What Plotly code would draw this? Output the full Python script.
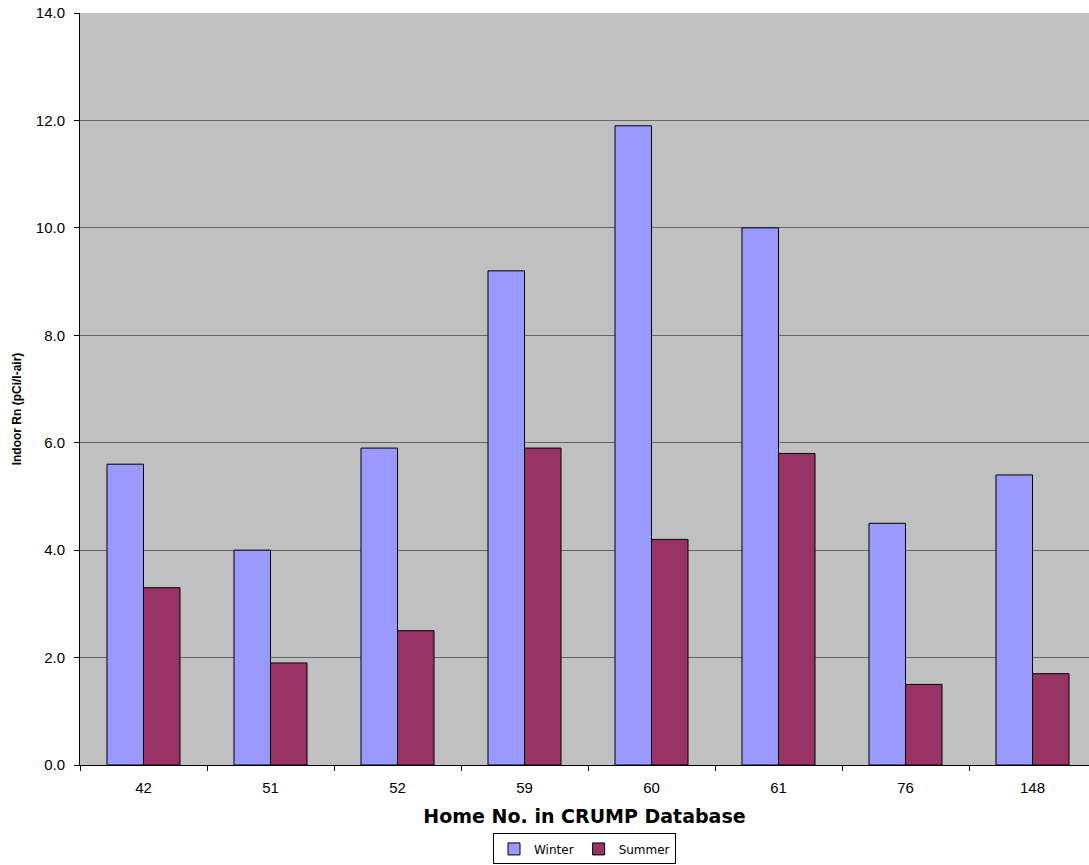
import plotly.graph_objects as go

# Indoor radon by home, winter vs summer
homes = ["42", "51", "52", "59", "60", "61", "76", "148"]
winter = [5.6, 4.0, 5.9, 9.2, 11.9, 10.0, 4.5, 5.4]
summer = [3.3, 1.9, 2.5, 5.9, 4.2, 5.8, 1.5, 1.7]
y_ticks = [0, 2, 4, 6, 8, 10, 12, 14]

fig = go.Figure()
fig.add_trace(go.Bar(
    name="Winter", x=homes, y=winter,
    marker=dict(color="#9999FF", line=dict(color="#000000", width=1)),
))
fig.add_trace(go.Bar(
    name="Summer", x=homes, y=summer,
    marker=dict(color="#993366", line=dict(color="#000000", width=1)),
))

fig.update_layout(
    width=1089, height=865,
    margin=dict(l=80, r=0, t=13, b=100, autoexpand=False),
    paper_bgcolor="white",
    plot_bgcolor="#C0C0C0",
    barmode="group",
    bargap=0.425,
    bargroupgap=0,
    font=dict(family="Liberation Sans, Arial, sans-serif", size=15, color="#000000"),
    showlegend=True,
    legend=dict(
        orientation="h", x=0.5, xanchor="center", y=-0.091, yanchor="top",
        bordercolor="#000000", borderwidth=1, bgcolor="white",
        font=dict(family="DejaVu Sans, sans-serif", size=12),
        itemwidth=30, tracegroupgap=0,
    ),
    xaxis=dict(
        type="category",
        range=[-0.5, -0.5 + 1009 / 127],
        showgrid=False,
        showline=True, linecolor="#000000", linewidth=1,
        ticks="outside", tickson="boundaries", ticklen=5, tickcolor="#000000",
        tickfont=dict(size=15),
        ticklabelstandoff=9,
        title=dict(
            text="Home No. in CRUMP Database",
            font=dict(family="DejaVu Sans, sans-serif", size=19, weight="bold"),
            standoff=14,
        ),
    ),
    yaxis=dict(
        range=[0, 14],
        tickvals=y_ticks,
        tickformat=".1f",
        showgrid=True, gridcolor="#666666", gridwidth=1,
        showline=True, linecolor="#000000", linewidth=1,
        ticks="outside", ticklen=5, tickcolor="#000000",
        tickfont=dict(size=15),
        ticklabelstandoff=6,
        zeroline=False,
    ),
    annotations=[dict(
        text="Indoor Rn (pCi/l-air)",
        xref="paper", yref="paper",
        x=-0.0624, y=0.473, xanchor="center", yanchor="middle",
        textangle=-90, showarrow=False,
        font=dict(family="Liberation Sans, Arial, sans-serif", size=12, weight="bold"),
    )],
)

fig.write_html("out.html")
